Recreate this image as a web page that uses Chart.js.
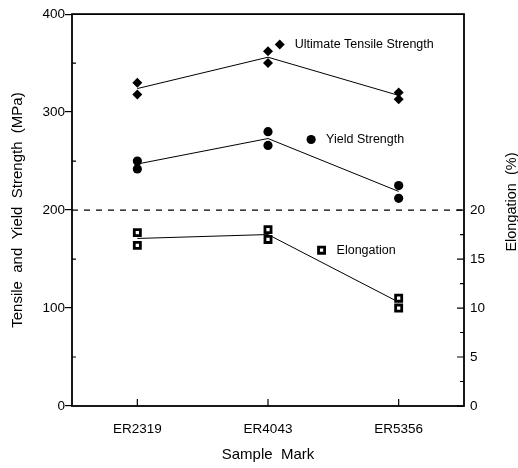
<!DOCTYPE html>
<html>
<head>
<meta charset="utf-8">
<script src="https://cdn.jsdelivr.net/npm/chart.js@4"></script>
<style>
    body { margin: 0; background: #fff; }
    canvas { display: block; }
</style>
</head>
<body>
<canvas id="weldChart" width="518" height="468"></canvas>
<script>
const categories = ['ER2319', 'ER4043', 'ER5356'];

// two specimens per filler wire, plus the line through them
const utsHigh = [330, 362, 320];
const utsLow = [318, 350, 313];
const utsLine = [324, 356, 317];

const yieldHigh = [250, 280, 225];
const yieldLow = [242, 266, 212];
const yieldLine = [247, 273, 219];

const elongHigh = [17.7, 18.0, 11.0];
const elongLow = [16.4, 17.0, 10.0];
const elongLine = [17.1, 17.5, 10.6];

const refLineX = [0.5, 3.5];
const refLineY = [200, 200];

const legendLabels = ['Ultimate Tensile Strength', 'Yield Strength', 'Elongation'];
const legendX = [2.09, 2.33, 2.41];
const legendY = [369, 272, 15.9];

const FONT = 'Liberation Sans, Arial, Helvetica, sans-serif';
const BLACK = '#000';

const pts = (vals) => vals.map((v, i) => ({ x: i + 1, y: v }));

function markerSet(style, radius, border, axis, data, legendText) {
    return {
        type: 'scatter',
        data: data,
        yAxisID: axis,
        pointStyle: style,
        pointRadius: radius,
        pointHoverRadius: radius,
        pointBackgroundColor: style === 'rect' ? '#fff' : BLACK,
        pointBorderColor: BLACK,
        pointBorderWidth: border,
        showLine: false,
        legendText: legendText
    };
}

function lineSet(data, axis) {
    return {
        type: 'line',
        data: data,
        yAxisID: axis,
        borderColor: BLACK,
        borderWidth: 1,
        pointRadius: 0,
        fill: false,
        tension: 0
    };
}

const datasets = [
    lineSet(pts(utsLine), 'y'),
    lineSet(pts(yieldLine), 'y'),
    lineSet(pts(elongLine), 'y2'),
    {
        type: 'line',
        data: refLineX.map((x, i) => ({ x: x, y: refLineY[i] })),
        yAxisID: 'y',
        borderColor: BLACK,
        borderWidth: 1.3,
        borderDash: [6, 6],
        pointRadius: 0,
        fill: false
    },
    markerSet('rectRot', 5, 0, 'y', pts(utsHigh).concat(pts(utsLow))),
    markerSet('circle', 4.6, 0, 'y', pts(yieldHigh).concat(pts(yieldLow))),
    markerSet('rect', 4.3, 2.8, 'y2', pts(elongHigh).concat(pts(elongLow))),
    markerSet('rectRot', 5, 0, 'y', [{ x: legendX[0], y: legendY[0] }], legendLabels[0]),
    markerSet('circle', 4.6, 0, 'y', [{ x: legendX[1], y: legendY[1] }], legendLabels[1]),
    markerSet('rect', 4.3, 2.8, 'y2', [{ x: legendX[2], y: legendY[2] }], legendLabels[2])
];

// frame, inward ticks, legend text and the right-hand title
const decorations = {
    id: 'decorations',
    afterDatasetsDraw(chart) {
        const ctx = chart.ctx;
        const area = chart.chartArea;
        const sx = chart.scales.x, sy = chart.scales.y, sy2 = chart.scales.y2;
        ctx.save();
        ctx.strokeStyle = BLACK;
        ctx.lineWidth = 1.2;

        ctx.beginPath();
        // minor ticks on the left axis, pointing in
        for (let i = 0; i < sy.ticks.length - 1; i++) {
            const py = sy.getPixelForValue((sy.ticks[i].value + sy.ticks[i + 1].value) / 2);
            ctx.moveTo(area.left, py);
            ctx.lineTo(area.left + 4, py);
        }
        // right axis: major and minor ticks, pointing in
        sy2.ticks.forEach((t, i) => {
            const py = sy2.getPixelForValue(t.value);
            ctx.moveTo(area.right, py);
            ctx.lineTo(area.right - 7, py);
            if (i < sy2.ticks.length - 1) {
                const pm = sy2.getPixelForValue((t.value + sy2.ticks[i + 1].value) / 2);
                ctx.moveTo(area.right, pm);
                ctx.lineTo(area.right - 4, pm);
            }
        });
        // category ticks, pointing up
        sx.ticks.forEach(t => {
            const px = sx.getPixelForValue(t.value);
            ctx.moveTo(px, area.bottom);
            ctx.lineTo(px, area.bottom - 7);
        });
        ctx.stroke();

        ctx.lineWidth = 1.8;
        ctx.strokeRect(area.left, area.top, area.right - area.left, area.bottom - area.top);

        ctx.fillStyle = BLACK;
        ctx.font = '12.5px ' + FONT;
        ctx.textBaseline = 'middle';
        ctx.textAlign = 'left';
        chart.data.datasets.forEach((ds, i) => {
            if (!ds.legendText) return;
            const p = chart.getDatasetMeta(i).data[0];
            ctx.fillText(ds.legendText, p.x + 15, p.y);
        });

        ctx.font = '14.5px ' + FONT;
        ctx.textAlign = 'center';
        ctx.translate(512, (area.top + area.bottom) / 2 - 8);
        ctx.rotate(-Math.PI / 2);
        ctx.fillText('Elongation  (%)', 0, 0);
        ctx.restore();
    }
};

new Chart(document.getElementById('weldChart'), {
    data: { datasets: datasets },
    options: {
        responsive: false,
        animation: false,
        events: [],
        layout: { padding: { top: 14, left: 0, right: 0, bottom: 0 } },
        plugins: {
            legend: { display: false },
            tooltip: { enabled: false }
        },
        scales: {
            x: {
                type: 'linear',
                min: 0.5,
                max: 3.5,
                afterBuildTicks: (scale) => {
                    scale.ticks = categories.map((c, i) => ({ value: i + 1 }));
                },
                afterFit: (scale) => { scale.height = 62; },
                grid: { display: false, drawTicks: false },
                border: { display: false },
                ticks: {
                    callback: (v) => categories[v - 1],
                    color: BLACK,
                    padding: 15,
                    maxRotation: 0,
                    font: { family: FONT, size: 13.5 }
                },
                title: {
                    display: true,
                    text: 'Sample  Mark',
                    color: BLACK,
                    padding: { top: 0, bottom: 4 },
                    font: { family: FONT, size: 15 }
                }
            },
            y: {
                position: 'left',
                min: 0,
                max: 400,
                afterFit: (scale) => { scale.width = 72; },
                grid: {
                    display: true,
                    drawOnChartArea: false,
                    drawTicks: true,
                    tickLength: 7,
                    color: BLACK,
                    lineWidth: 1.2
                },
                border: { display: false },
                ticks: {
                    stepSize: 100,
                    color: BLACK,
                    padding: 0,
                    font: { family: FONT, size: 13.5 }
                },
                title: {
                    display: true,
                    text: 'Tensile  and  Yield  Strength  (MPa)',
                    color: BLACK,
                    padding: { top: 9, bottom: 0 },
                    font: { family: FONT, size: 15 }
                }
            },
            y2: {
                position: 'right',
                min: 0,
                max: 40,
                afterBuildTicks: (scale) => {
                    scale.ticks = scale.ticks.filter(t => t.value <= 20);
                },
                afterFit: (scale) => { scale.width = 54; },
                grid: { display: false, drawTicks: false },
                border: { display: false },
                ticks: {
                    stepSize: 5,
                    color: BLACK,
                    padding: 6,
                    font: { family: FONT, size: 13.5 }
                }
            }
        }
    },
    plugins: [decorations]
});
</script>
</body>
</html>
